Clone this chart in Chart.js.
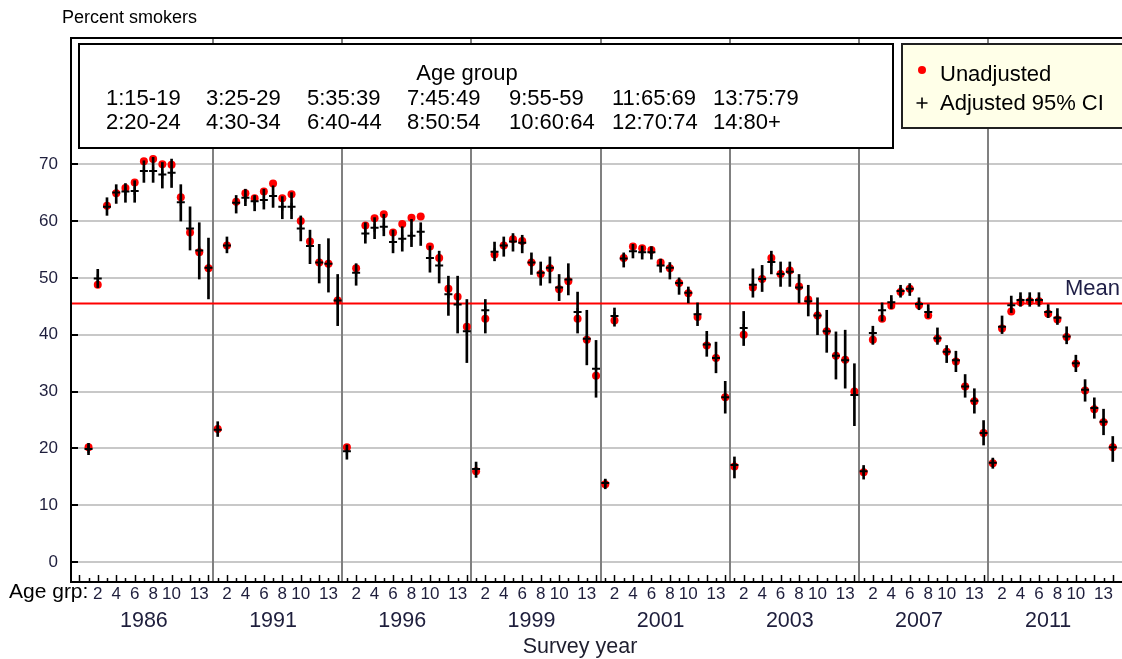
<!DOCTYPE html>
<html>
<head>
<meta charset="utf-8">
<script src="https://cdn.jsdelivr.net/npm/chart.js@4/dist/chart.umd.min.js"></script>
<style>
  html, body { margin: 0; padding: 0; background: #ffffff; overflow: hidden; }
  #wrap { width: 1122px; height: 659px; position: relative; }
</style>
</head>
<body>
<div id="wrap"><canvas id="chart" width="1122" height="659"></canvas></div>
<script>
// Survey years (one block of 14 age groups each)
const surveyYears = ['1986', '1991', '1996', '1999', '2001', '2003', '2007', '2011'];

// Age-group key shown in the box above the plot
const ageKeyRow1 = ['1:15-19', '3:25-29', '5:35:39', '7:45:49', '9:55-59', '11:65:69', '13:75:79'];
const ageKeyRow2 = ['2:20-24', '4:30-34', '6:40-44', '8:50:54', '10:60:64', '12:70:74', '14:80+'];

// Age-group numbers labelled under each survey block
const ageTickLabels = [2, 4, 6, 8, 10, 13];
const yTickValues = [0, 10, 20, 30, 40, 50, 60, 70];

// Percent smokers, unadjusted (one row per survey year, age groups 1..14)
const unadjusted = [
  [20.2, 48.8, 62.7, 64.9, 65.8, 66.8, 70.5, 70.9, 70.0, 69.9, 64.2, 58.0, 54.5, 51.7],
  [23.4, 55.7, 63.4, 64.9, 64.0, 65.2, 66.6, 64.0, 64.7, 60.0, 56.4, 52.7, 52.5, 46.0],
  [20.2, 51.7, 59.2, 60.5, 61.2, 58.0, 59.5, 60.6, 60.8, 55.5, 53.5, 48.1, 46.7, 41.4],
  [16.0, 42.8, 54.1, 55.7, 56.8, 56.5, 52.7, 50.7, 51.7, 48.0, 49.4, 42.8, 39.1, 32.8],
  [13.7, 42.5, 53.5, 55.5, 55.2, 54.9, 52.7, 51.7, 49.1, 47.3, 43.1, 38.1, 35.9, 29.0],
  [16.8, 40.0, 48.3, 49.8, 53.5, 50.7, 51.3, 48.5, 46.2, 43.4, 40.6, 36.3, 35.6, 30.0],
  [15.8, 39.1, 42.8, 45.1, 47.5, 48.1, 45.2, 43.4, 39.3, 37.0, 35.3, 30.9, 28.3, 22.7],
  [17.4, 41.1, 44.1, 45.7, 45.9, 45.9, 43.7, 42.7, 39.6, 34.9, 30.2, 26.9, 24.6, 20.2]
];

// Adjusted estimates
const adjusted = [
  [19.9, 49.9, 62.5, 65.0, 65.2, 65.3, 68.8, 68.8, 68.2, 68.5, 63.3, 58.7, 54.8, 51.8],
  [23.3, 55.7, 63.2, 64.1, 63.5, 63.7, 64.4, 62.5, 62.5, 58.7, 55.6, 52.7, 52.5, 46.0],
  [19.5, 50.9, 57.8, 58.8, 59.0, 56.3, 56.9, 57.4, 58.1, 53.5, 52.2, 47.1, 45.3, 40.6],
  [16.4, 44.3, 54.6, 55.7, 56.4, 56.2, 52.7, 50.9, 51.8, 48.3, 49.7, 44.0, 39.3, 34.0],
  [13.9, 43.3, 53.4, 54.7, 54.5, 54.5, 52.2, 51.8, 49.1, 47.4, 43.6, 38.3, 35.9, 29.0],
  [17.1, 41.2, 48.8, 49.8, 52.8, 50.7, 51.1, 48.3, 45.9, 43.4, 40.6, 36.3, 35.5, 29.4],
  [16.0, 40.3, 44.3, 45.7, 47.7, 48.1, 45.4, 44.0, 39.4, 37.0, 35.5, 30.9, 28.4, 22.7],
  [17.5, 41.4, 45.2, 46.1, 46.1, 46.1, 44.0, 43.0, 39.7, 35.0, 30.3, 27.1, 24.7, 20.2]
];

// Adjusted 95% confidence limits
const ciLower = [
  [18.9, 48.3, 61.0, 63.1, 63.3, 63.3, 66.8, 66.8, 65.8, 65.9, 60.0, 54.9, 49.8, 46.3],
  [22.1, 54.4, 61.4, 62.7, 61.8, 62.1, 62.4, 60.4, 60.4, 56.5, 52.5, 49.1, 47.5, 41.6],
  [18.1, 48.7, 56.1, 56.9, 57.4, 54.4, 54.7, 55.5, 55.7, 51.0, 49.1, 43.4, 40.3, 35.1],
  [14.9, 40.3, 53.0, 53.8, 54.7, 54.4, 50.6, 48.7, 49.1, 46.0, 47.0, 40.3, 34.7, 29.0],
  [12.9, 41.5, 51.9, 53.5, 53.3, 53.3, 51.0, 49.8, 47.1, 45.6, 41.6, 36.2, 33.3, 26.2],
  [14.8, 38.1, 46.6, 47.6, 50.7, 48.5, 48.5, 45.6, 43.3, 40.0, 36.9, 32.2, 30.6, 24.0],
  [14.6, 38.3, 42.4, 44.6, 46.6, 46.9, 44.4, 43.0, 38.3, 35.1, 33.5, 29.0, 26.2, 20.6],
  [16.5, 40.2, 43.9, 45.0, 45.0, 45.0, 43.0, 41.8, 38.4, 33.5, 28.3, 25.3, 22.4, 17.7]
];
const ciUpper = [
  [20.9, 51.5, 64.1, 66.4, 66.6, 67.1, 70.6, 71.2, 70.3, 70.9, 66.4, 62.5, 59.7, 57.0],
  [24.7, 57.2, 64.5, 65.6, 64.5, 65.6, 66.2, 64.3, 65.0, 60.9, 58.4, 55.9, 56.9, 50.6],
  [20.6, 52.5, 59.7, 60.6, 61.2, 58.4, 59.0, 60.3, 59.7, 55.6, 54.7, 50.3, 50.3, 46.2],
  [17.6, 46.2, 56.3, 57.2, 57.8, 57.5, 54.4, 52.8, 53.7, 50.6, 52.5, 47.5, 44.3, 39.0],
  [14.6, 44.7, 54.4, 55.9, 55.6, 55.5, 53.3, 52.7, 50.0, 48.4, 45.6, 40.6, 38.7, 31.8],
  [18.5, 44.1, 51.6, 52.2, 54.7, 52.8, 52.8, 50.6, 48.7, 46.5, 44.3, 40.5, 40.8, 34.9],
  [17.0, 41.5, 45.6, 46.9, 48.7, 49.0, 46.5, 45.3, 41.2, 38.1, 37.1, 33.0, 30.5, 24.9],
  [18.3, 43.3, 46.8, 47.4, 47.4, 47.4, 45.3, 44.6, 41.4, 36.4, 32.1, 28.9, 26.9, 22.1]
];

// Overall mean percentage
const meanValue = 45.5;

const FONT = "'Liberation Sans', Arial, Helvetica, sans-serif";
const GROUPS = 14;
const X_MIN = -0.9, X_MAX = 113.0;

Chart.defaults.font.family = FONT;

// running position along the x axis: block * 14 + age group
const xPos = (yi, age) => yi * GROUPS + age;

const unadjPts = [], adjPts = [], ciBars = [];
surveyYears.forEach((yr, yi) => {
  for (let a = 0; a < GROUPS; a++) {
    const x = xPos(yi, a + 1);
    unadjPts.push({ x, y: unadjusted[yi][a] });
    adjPts.push({ x, y: adjusted[yi][a] });
    ciBars.push({ x, y: [ciLower[yi][a], ciUpper[yi][a]] });
  }
});

const blockEdges = surveyYears.slice(1).map((_, i) => xPos(i + 1, 0.5));
const ageTickPositions = [];
surveyYears.forEach((_, yi) => ageTickLabels.forEach(a => ageTickPositions.push(xPos(yi, a))));
const yearCenters = surveyYears.map((_, yi) => xPos(yi, 7));

const framePlugin = {
  id: 'smokersFrame',
  beforeDatasetsDraw(chart) {
    const { ctx, chartArea: ca, scales: { x } } = chart;
    ctx.save();
    ctx.strokeStyle = '#808080';
    ctx.lineWidth = 2;
    blockEdges.forEach(b => {
      const px = Math.round(x.getPixelForValue(b));
      ctx.beginPath();
      ctx.moveTo(px, ca.top);
      ctx.lineTo(px, ca.bottom);
      ctx.stroke();
    });
    ctx.restore();
  },
  afterDatasetsDraw(chart) {
    const { ctx, chartArea: ca, scales: { x, y } } = chart;
    ctx.save();
    ctx.strokeStyle = '#000000';
    ctx.lineWidth = 2;
    // axes frame (top, left, bottom)
    ctx.beginPath();
    ctx.moveTo(ca.right + 2, ca.top);
    ctx.lineTo(ca.left, ca.top);
    ctx.lineTo(ca.left, ca.bottom);
    ctx.lineTo(ca.right + 2, ca.bottom);
    ctx.stroke();
    // inward y ticks
    yTickValues.forEach(v => {
      const py = Math.round(y.getPixelForValue(v));
      ctx.beginPath();
      ctx.moveTo(ca.left, py);
      ctx.lineTo(ca.left + 7, py);
      ctx.stroke();
    });
    // age-group tick marks
    ctx.lineWidth = 1.5;
    for (let i = 0; i <= surveyYears.length * GROUPS; i++) {
      const px = Math.round(x.getPixelForValue(i)) + 0.5;
      const len = (i % 2 === 0) ? 7 : 4;
      ctx.beginPath();
      ctx.moveTo(px, ca.bottom);
      ctx.lineTo(px, ca.bottom - len);
      ctx.stroke();
    }
    // mean label
    ctx.fillStyle = '#1e1e46';
    ctx.font = '22px ' + FONT;
    ctx.textBaseline = 'middle';
    ctx.textAlign = 'left';
    ctx.fillText('Mean', 1065, y.getPixelForValue(meanValue) - 15);
    ctx.restore();
  },
  afterDraw(chart) {
    const { ctx } = chart;
    ctx.save();
    ctx.textBaseline = 'middle';
    ctx.fillStyle = '#000000';

    // axis caption at top
    ctx.font = '18px ' + FONT;
    ctx.textAlign = 'left';
    ctx.fillText('Percent smokers', 62, 18);

    // "Age grp:" caption by the tick labels
    ctx.font = '21px ' + FONT;
    ctx.fillText('Age grp:', 9, 592);

    // x title
    ctx.textAlign = 'center';
    ctx.fillStyle = '#1e1e2e';
    ctx.font = '21.5px ' + FONT;
    ctx.fillText('Survey year', 580, 647);

    // age group key box
    ctx.fillStyle = '#ffffff';
    ctx.fillRect(79, 44, 814, 104);
    ctx.strokeStyle = '#000000';
    ctx.lineWidth = 2;
    ctx.strokeRect(79, 44, 814, 104);
    ctx.fillStyle = '#000000';
    ctx.font = '22px ' + FONT;
    ctx.textAlign = 'center';
    ctx.fillText('Age group', 467, 74);
    ctx.textAlign = 'left';
    const cols = [106, 206, 307, 407, 509, 612, 713];
    ageKeyRow1.forEach((t, i) => ctx.fillText(t, cols[i], 99));
    ageKeyRow2.forEach((t, i) => ctx.fillText(t, cols[i], 123));

    // series key box
    ctx.fillStyle = '#ffffe8';
    ctx.fillRect(902, 44, 240, 84);
    ctx.strokeStyle = '#202020';
    ctx.strokeRect(902, 44, 240, 84);
    const ds = chart.data.datasets;
    ctx.fillStyle = ds[0].backgroundColor;
    ctx.beginPath();
    ctx.arc(922, 70, 4, 0, Math.PI * 2);
    ctx.fill();
    ctx.strokeStyle = '#000000';
    ctx.lineWidth = 1.6;
    ctx.beginPath();
    ctx.moveTo(916.5, 103); ctx.lineTo(927.5, 103);
    ctx.moveTo(922, 97.5); ctx.lineTo(922, 108.5);
    ctx.stroke();
    ctx.fillStyle = '#000000';
    ctx.font = '22px ' + FONT;
    ctx.fillText(ds[0].label, 940, 75);
    ctx.fillText(ds[2].label, 940, 104);
    ctx.restore();
  }
};

new Chart(document.getElementById('chart'), {
  type: 'bar',
  data: {
    datasets: [
      {
        type: 'scatter', label: 'Unadjusted', data: unadjPts,
        pointStyle: 'circle', pointRadius: 4, backgroundColor: '#ff0000',
        borderWidth: 0, order: 3
      },
      {
        type: 'bar', label: '95% CI', data: ciBars,
        backgroundColor: '#000000', barThickness: 2, borderWidth: 0, order: 2
      },
      {
        type: 'scatter', label: 'Adjusted 95% CI', data: adjPts,
        pointStyle: 'cross', pointRadius: 4, borderColor: '#000000',
        borderWidth: 2, order: 1
      },
      {
        type: 'line', label: 'Mean', data: [{ x: X_MIN, y: meanValue }, { x: X_MAX, y: meanValue }],
        borderColor: '#ff0000', borderWidth: 2, pointRadius: 0, order: 4
      }
    ]
  },
  options: {
    responsive: false,
    animation: false,
    events: [],
    layout: { autoPadding: false, padding: { top: 38, left: 0, right: 0, bottom: 0 } },
    plugins: { legend: { display: false }, tooltip: { enabled: false } },
    scales: {
      x: {
        type: 'linear', position: 'bottom', weight: 0,
        min: X_MIN, max: X_MAX, bounds: 'data', offset: false,
        grid: { display: false, drawTicks: false },
        border: { display: false },
        afterBuildTicks: s => { s.ticks = ageTickPositions.map(v => ({ value: v })); },
        ticks: {
          autoSkip: false, maxRotation: 0, padding: 2,
          font: { size: 17 }, color: '#1e1e3c',
          callback: v => String(((Math.round(v) - 1) % GROUPS) + 1)
        },
        afterFit: s => { s.height = 24; }
      },
      xYear: {
        type: 'linear', position: 'bottom', weight: 1,
        min: X_MIN, max: X_MAX, bounds: 'data', offset: false,
        grid: { display: false, drawTicks: false },
        border: { display: false },
        afterBuildTicks: s => { s.ticks = yearCenters.map(v => ({ value: v })); },
        ticks: {
          autoSkip: false, maxRotation: 0, padding: 2,
          font: { size: 21.5 }, color: '#1e1e3c',
          callback: (v, i) => surveyYears[i]
        },
        afterFit: s => { s.height = 53; }
      },
      y: {
        type: 'linear', min: -3.5, max: 92.2, bounds: 'data',
        afterBuildTicks: s => { s.ticks = yTickValues.map(v => ({ value: v })); },
        grid: { color: '#c8c8c8', lineWidth: 2, drawTicks: false },
        border: { display: false },
        ticks: { padding: 13, font: { size: 17 }, color: '#1e1e3c' },
        afterFit: s => { s.width = 71; }
      }
    }
  },
  plugins: [framePlugin]
});
</script>
</body>
</html>
